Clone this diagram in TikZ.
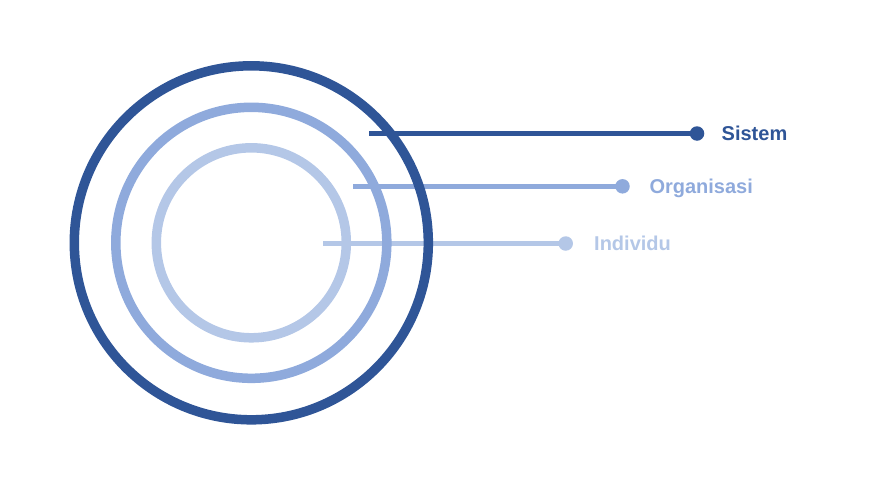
\documentclass[tikz,border=0pt]{standalone}
\usepackage{fontspec}
\setmainfont{Liberation Sans}
\definecolor{cdark}{HTML}{2F5597}
\definecolor{cmid}{HTML}{8FAADC}
\definecolor{clight}{HTML}{B4C7E7}
\begin{document}
\begin{tikzpicture}[x=1pt,y=-1pt,
  ring/.style={line width=9.5pt},
  leader/.style={line width=4.5pt},
  dotnode/.style={circle,inner sep=0pt,minimum size=14.5pt},
  lbl/.style={anchor=base west,inner sep=0pt,font=\fontsize{20}{24}\selectfont\bfseries}]
\useasboundingbox (0,0) rectangle (885,493);
% leaders
\coordinate (s0) at (369,133.5);
\node[dotnode,fill=cdark] (sd) at (697,133.5) {};
\node[lbl,text=cdark] (sl) at (721.5,140.7) {Sistem};
\draw[leader,cdark] (s0) -- (sd.center);
\coordinate (o0) at (353,186.3);
\node[dotnode,fill=cmid] (od) at (622.5,186.3) {};
\node[lbl,text=cmid] (ol) at (649.3,193.5) {Organisasi};
\draw[leader,cmid] (o0) -- (od.center);
\coordinate (i0) at (323,243.5);
\node[dotnode,fill=clight] (id) at (565.7,243.5) {};
\node[lbl,text=clight] (il) at (594,250.7) {Individu};
\draw[leader,clight] (i0) -- (id.center);
% rings
\node[circle,draw=cdark,ring,minimum size=354pt,inner sep=0pt] (outer) at (251.3,242.8) {};
\node[circle,draw=cmid,ring,minimum size=271pt,inner sep=0pt] (middle) at (251.3,242.8) {};
\node[circle,draw=clight,ring,minimum size=190pt,inner sep=0pt] (inner) at (251.3,242.8) {};
\end{tikzpicture}
\end{document}
